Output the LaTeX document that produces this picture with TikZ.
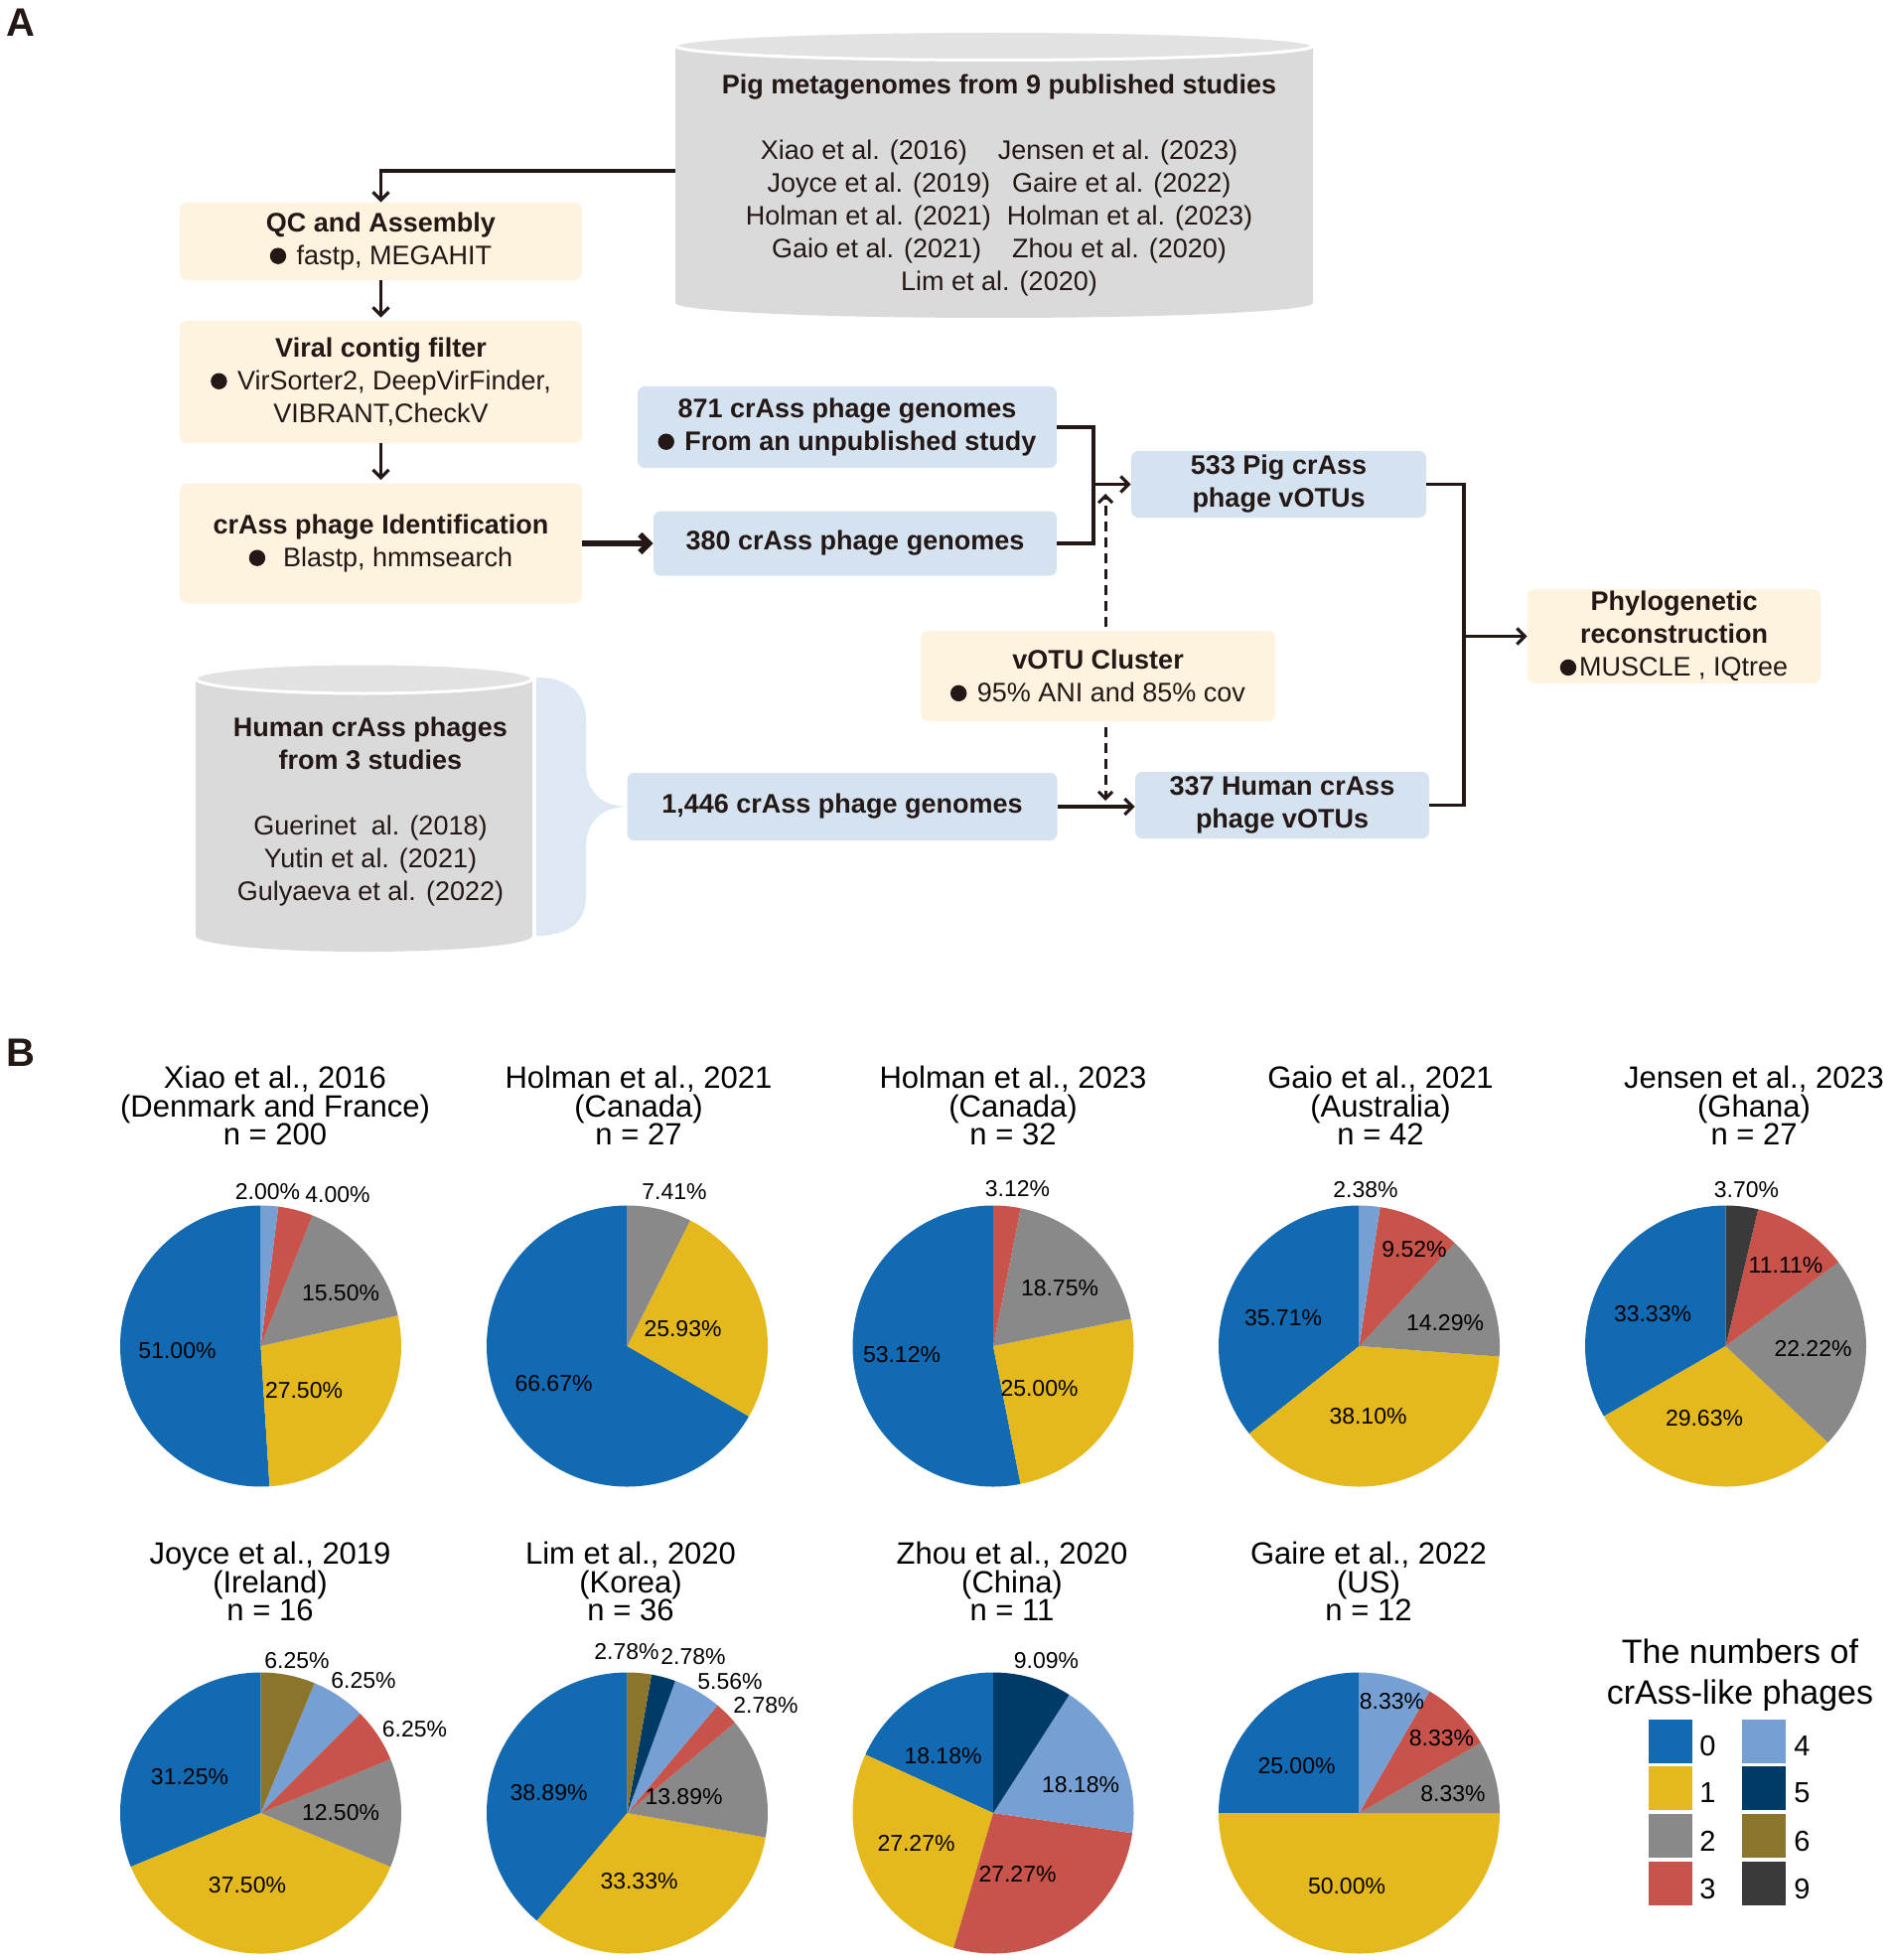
\documentclass[tikz,border=0pt]{standalone}
\usepackage{fontspec}
\setmainfont{Liberation Sans}
\usetikzlibrary{arrows.meta}
\definecolor{lineDark}{HTML}{231815}
\definecolor{creamFill}{HTML}{FDF3DF}
\definecolor{blueFill}{HTML}{D5E3F1}
\definecolor{braceFill}{HTML}{DDE8F4}
\definecolor{cylBody}{HTML}{DADADA}
\definecolor{cylTop}{HTML}{E2E2E2}
\definecolor{catZero}{HTML}{126AB2}
\definecolor{catOne}{HTML}{E5B91E}
\definecolor{catTwo}{HTML}{898989}
\definecolor{catThree}{HTML}{C8534B}
\definecolor{catFour}{HTML}{76A0D3}
\definecolor{catFive}{HTML}{003B67}
\definecolor{catSix}{HTML}{8B742C}
\definecolor{catNine}{HTML}{3A3A3A}
\newcommand{\flowsize}{\fontsize{13.5}{16.5}\selectfont}
\newcommand{\titlesize}{\fontsize{15.5}{14.25}\selectfont\lineskiplimit=-20pt}
\newcommand{\pctsize}{\fontsize{11.5}{13}\selectfont}
\newcommand{\keysize}{\fontsize{14.5}{16}\selectfont}
\newcommand{\legsize}{\fontsize{17}{20.5}\selectfont}
\newcommand{\bigdot}{\tikz[baseline=0pt]\fill [lineDark] (0pt,4.4pt) circle [radius=4.1pt];\hspace{1.5pt}}
% one pie: centre x, centre y, list of value/colour (anticlockwise from 12 o'clock)
\newcommand{\pieslices}[3]{%
  \def\pieAngle{90}%
  \foreach \pieVal/\pieCol in {#3} {
    \pgfmathsetmacro{\pieEnd}{\pieAngle+3.6*\pieVal}
    \fill [\pieCol] (#1,#2) -- ++(\pieAngle:70.75pt) arc [start angle=\pieAngle, end angle=\pieEnd, radius=70.75pt] -- cycle;
    \global\let\pieAngle\pieEnd
  }%
}
\tikzset{
  creambox/.style={fill=creamFill, rounded corners=3.5pt, align=center, inner sep=0pt, font=\flowsize, text=lineDark},
  bluebox/.style={fill=blueFill, rounded corners=3.5pt, align=center, inner sep=0pt, font=\flowsize\bfseries, text=lineDark},
  flowline/.style={draw=lineDark, line width=1.6pt},
  flowarrow/.style={flowline, -{Straight Barb[length=4pt,width=8pt]}},
  thickarrow/.style={draw=lineDark, line width=3pt, -{Straight Barb[length=4.5pt,width=9pt]}},
  dasharrow/.style={draw=lineDark, line width=1.5pt, dash pattern=on 5pt off 3pt, -{Straight Barb[length=3.5pt,width=7pt]}},
  ptitle/.style={align=center, inner sep=0pt, font=\titlesize},
  pct/.style={inner sep=0pt, font=\pctsize},
  keybox/.style={minimum size=22pt, inner sep=0pt},
  keylabel/.style={anchor=west, inner sep=0pt, font=\keysize}
}

\begin{document}
\begin{tikzpicture}[x=0.5pt,y=-0.5pt]
\useasboundingbox (0,0) rectangle (1903,1973);

\node (panelA) at (21,23) [font=\fontsize{20}{22}\selectfont\bfseries, text=lineDark] {A};
\node (panelB) at (21,1060) [font=\fontsize{20}{22}\selectfont\bfseries, text=lineDark] {B};

% pig metagenome cylinder
\fill [cylBody] (680,46) -- (680,305) arc [start angle=180, end angle=360, x radius=160.5pt, y radius=7.5pt] -- (1322,46) -- cycle;
\filldraw [fill=cylTop, draw=white, line width=1.5pt] (1001,46) ellipse [x radius=160.5pt, y radius=7.25pt];
\node (Pig) at (1006,187) [inner sep=0pt, minimum width=326pt, align=center, font=\flowsize, text=lineDark] {\textbf{Pig metagenomes from 9 published studies}\\[16.5pt]
Xiao et al. (2016)\hspace{15.5pt}Jensen et al. (2023)\\
Joyce et al. (2019)\hspace{11pt}Gaire et al. (2022)\\
Holman et al. (2021)\hspace{8pt}Holman et al. (2023)\\
Gaio et al. (2021)\hspace{15.5pt}Zhou et al. (2020)\\
Lim et al. (2020)};

% human cylinder and brace
\fill [cylBody] (197,683) -- (197,942) arc [start angle=180, end angle=360, x radius=84.75pt, y radius=8pt] -- (536,683) -- cycle;
\filldraw [fill=cylTop, draw=white, line width=1.5pt] (366.5,683) ellipse [x radius=84.75pt, y radius=7.5pt];
\node (Human) at (373,817) [inner sep=0pt, align=center, font=\flowsize, text=lineDark] {\textbf{Human crAss phages}\\\textbf{from 3 studies}\\[16.5pt]
Guerinet~ al. (2018)\\Yutin et al. (2021)\\Gulyaeva et al. (2022)};
\fill [braceFill] (540,682) .. controls (573,682) and (590,698) .. (590,725) -- (590,772) .. controls (590,797) and (606,812) .. (633,812) .. controls (606,812) and (590,827) .. (590,852) -- (590,902) .. controls (590,928) and (573,942) .. (540,942) -- cycle;

% flow boxes
\node (QC) at (383.5,243) [creambox, minimum width=202.5pt, minimum height=39pt] {\textbf{QC and Assembly}\\\bigdot\ fastp, MEGAHIT};
\node (VF) at (383.5,384.5) [creambox, minimum width=202.5pt, minimum height=61.5pt] {\textbf{Viral contig filter}\\\bigdot\ VirSorter2, DeepVirFinder,\\VIBRANT,CheckV};
\node (ID) at (383.5,547) [creambox, minimum width=202.5pt, minimum height=60.5pt] {\textbf{crAss phage Identification}\\\bigdot\ \ Blastp, hmmsearch};
\node (B871) at (853,430) [bluebox, minimum width=211pt, minimum height=41pt] {871 crAss phage genomes\\\bigdot\ From an unpublished study};
\node (B380) at (861,547) [bluebox, minimum width=203pt, minimum height=32.5pt] {380 crAss phage genomes};
\node (B533) at (1287.5,487.5) [bluebox, minimum width=148.5pt, minimum height=33.5pt] {533 Pig crAss\\phage vOTUs};
\node (vOTU) at (1105.5,680.5) [creambox, minimum width=178.5pt, minimum height=45.5pt] {\textbf{vOTU Cluster}\\\bigdot\ 95\% ANI and 85\% cov};
\node (B1446) at (848,812) [bluebox, minimum width=216.5pt, minimum height=34pt] {1,446 crAss phage genomes};
\node (B337) at (1291,810.5) [bluebox, minimum width=148pt, minimum height=33.5pt] {337 Human crAss\\phage vOTUs};
\node (Phylo) at (1685.5,640.5) [creambox, minimum width=147.5pt, minimum height=47.5pt] {\textbf{Phylogenetic}\\\textbf{reconstruction}\\\bigdot MUSCLE , IQtree};

\coordinate (pigjoin) at (1101,487.5);
\coordinate (phyjoin) at (1474,640.5);
\coordinate (dashtop) at (1113,497);
\coordinate (dashbot) at (1113,806);

\draw [flowarrow] ([yshift=7.5pt]Pig.west) -| (QC.north);
\draw [flowarrow, shorten >=1.5pt] (QC.south) -- (VF.north);
\draw [flowarrow, shorten >=1.5pt] (VF.south) -- (ID.north);
\draw [thickarrow] (ID.east) -- (ID.east -| B380.west);
\draw [flowline] (B871.east) -| (pigjoin) |- (B380.east);
\draw [flowarrow] (pigjoin) -- (B533.west);
\draw [flowline] (B533.east) -| (phyjoin) |- (B337.east);
\draw [flowarrow] (phyjoin) -- (Phylo.west);
\draw [flowarrow] (B1446.east) -- (B1446.east -| B337.west);
\draw [dasharrow, shorten <=2pt] (vOTU.north -| dashtop) -- (dashtop);
\draw [dasharrow, shorten <=3pt] (vOTU.south -| dashbot) -- (dashbot);

% pies, first row
\pieslices{262.5}{1355}{51/catZero,27.5/catOne,15.5/catTwo,4/catThree,2/catFour}
\pieslices{631.5}{1355}{66.67/catZero,25.93/catOne,7.41/catTwo}
\pieslices{1000}{1355}{53.12/catZero,25/catOne,18.75/catTwo,3.12/catThree}
\pieslices{1368.5}{1355}{35.71/catZero,38.10/catOne,14.29/catTwo,9.52/catThree,2.38/catFour}
\pieslices{1737.5}{1355}{33.33/catZero,29.63/catOne,22.22/catTwo,11.11/catThree,3.70/catNine}
% pies, second row
\pieslices{262.5}{1825}{31.25/catZero,37.5/catOne,12.5/catTwo,6.25/catThree,6.25/catFour,6.25/catSix}
\pieslices{631.5}{1825}{38.89/catZero,33.33/catOne,13.89/catTwo,2.78/catThree,5.56/catFour,2.78/catFive,2.78/catSix}
\pieslices{1000}{1825}{18.18/catZero,27.27/catOne,27.27/catThree,18.18/catFour,9.09/catFive}
\pieslices{1368.5}{1825}{25/catZero,50/catOne,8.33/catTwo,8.33/catThree,8.33/catFour}

\node (t1) at (277,1113) [ptitle] {Xiao et al., 2016\\(Denmark and France)\\n = 200};
\node (t2) at (643,1113) [ptitle] {Holman et al., 2021\\(Canada)\\n = 27};
\node (t3) at (1020,1113) [ptitle] {Holman et al., 2023\\(Canada)\\n = 32};
\node (t4) at (1390,1113) [ptitle] {Gaio et al., 2021\\(Australia)\\n = 42};
\node (t5) at (1766,1113) [ptitle] {Jensen et al., 2023\\(Ghana)\\n = 27};
\node (t6) at (272,1592) [ptitle] {Joyce et al., 2019\\(Ireland)\\n = 16};
\node (t7) at (635,1592) [ptitle] {Lim et al., 2020\\(Korea)\\n = 36};
\node (t8) at (1019,1592) [ptitle] {Zhou et al., 2020\\(China)\\n = 11};
\node (t9) at (1378,1592) [ptitle] {Gaire et al., 2022\\(US)\\n = 12};

\node (a1) at (269.5,1200) [pct] {2.00\%};
\node (a2) at (340,1203) [pct] {4.00\%};
\node (a3) at (343,1302) [pct] {15.50\%};
\node (a4) at (178.5,1360) [pct] {51.00\%};
\node (a5) at (306,1400) [pct] {27.50\%};
\node (b1) at (679,1200) [pct] {7.41\%};
\node (b2) at (687.5,1338) [pct] {25.93\%};
\node (b3) at (557.5,1393) [pct] {66.67\%};
\node (c1) at (1024.5,1197) [pct] {3.12\%};
\node (c2) at (1067,1297) [pct] {18.75\%};
\node (c3) at (1046.5,1398) [pct] {25.00\%};
\node (c4) at (908,1364) [pct] {53.12\%};
\node (d1) at (1375,1198) [pct] {2.38\%};
\node (d2) at (1424,1258) [pct] {9.52\%};
\node (d3) at (1455,1332) [pct] {14.29\%};
\node (d4) at (1292,1327) [pct] {35.71\%};
\node (d5) at (1377.5,1426) [pct] {38.10\%};
\node (e1) at (1758.5,1198) [pct] {3.70\%};
\node (e2) at (1798,1274) [pct] {11.11\%};
\node (e3) at (1825.5,1358) [pct] {22.22\%};
\node (e4) at (1664,1323) [pct] {33.33\%};
\node (e5) at (1716,1428) [pct] {29.63\%};
\node (f1) at (299,1672) [pct] {6.25\%};
\node (f2) at (366,1692) [pct] {6.25\%};
\node (f3) at (417.5,1741) [pct] {6.25\%};
\node (f4) at (191,1789) [pct] {31.25\%};
\node (f5) at (343,1825) [pct] {12.50\%};
\node (f6) at (249,1898) [pct] {37.50\%};
\node (g1) at (631,1663) [pct] {2.78\%};
\node (g2) at (698,1668) [pct] {2.78\%};
\node (g3) at (735,1693) [pct] {5.56\%};
\node (g4) at (771,1717) [pct] {2.78\%};
\node (g5) at (552.5,1805) [pct] {38.89\%};
\node (g6) at (688.5,1809) [pct] {13.89\%};
\node (g7) at (643.5,1894) [pct] {33.33\%};
\node (h1) at (1053.5,1672) [pct] {9.09\%};
\node (h2) at (1088,1797) [pct] {18.18\%};
\node (h3) at (1024.5,1887) [pct] {27.27\%};
\node (h4) at (949.5,1768) [pct] {18.18\%};
\node (h5) at (922.5,1856) [pct] {27.27\%};
\node (i1) at (1401.5,1713) [pct] {8.33\%};
\node (i2) at (1451.5,1750) [pct] {8.33\%};
\node (i3) at (1463,1806) [pct] {8.33\%};
\node (i4) at (1305.5,1778) [pct] {25.00\%};
\node (i5) at (1356,1899) [pct] {50.00\%};

% legend
\node (legtitle) at (1752,1686) [align=center, inner sep=0pt, font=\legsize] {The numbers of\\crAss-like phages};
\node (k0) at (1681.5,1752.5) [keybox, fill=catZero] {};
\node (k1) at (1681.5,1800) [keybox, fill=catOne] {};
\node (k2) at (1681.5,1848) [keybox, fill=catTwo] {};
\node (k3) at (1681.5,1896) [keybox, fill=catThree] {};
\node (k4) at (1776,1752.5) [keybox, fill=catFour] {};
\node (k5) at (1776,1800) [keybox, fill=catFive] {};
\node (k6) at (1776,1848) [keybox, fill=catSix] {};
\node (k9) at (1776,1896) [keybox, fill=catNine] {};
\node (l0) at (1711,1757.5) [keylabel] {0};
\node (l1) at (1711,1805) [keylabel] {1};
\node (l2) at (1711,1853) [keylabel] {2};
\node (l3) at (1711,1901) [keylabel] {3};
\node (l4) at (1806,1757.5) [keylabel] {4};
\node (l5) at (1806,1805) [keylabel] {5};
\node (l6) at (1806,1853) [keylabel] {6};
\node (l9) at (1806,1901) [keylabel] {9};

\end{tikzpicture}
\end{document}
